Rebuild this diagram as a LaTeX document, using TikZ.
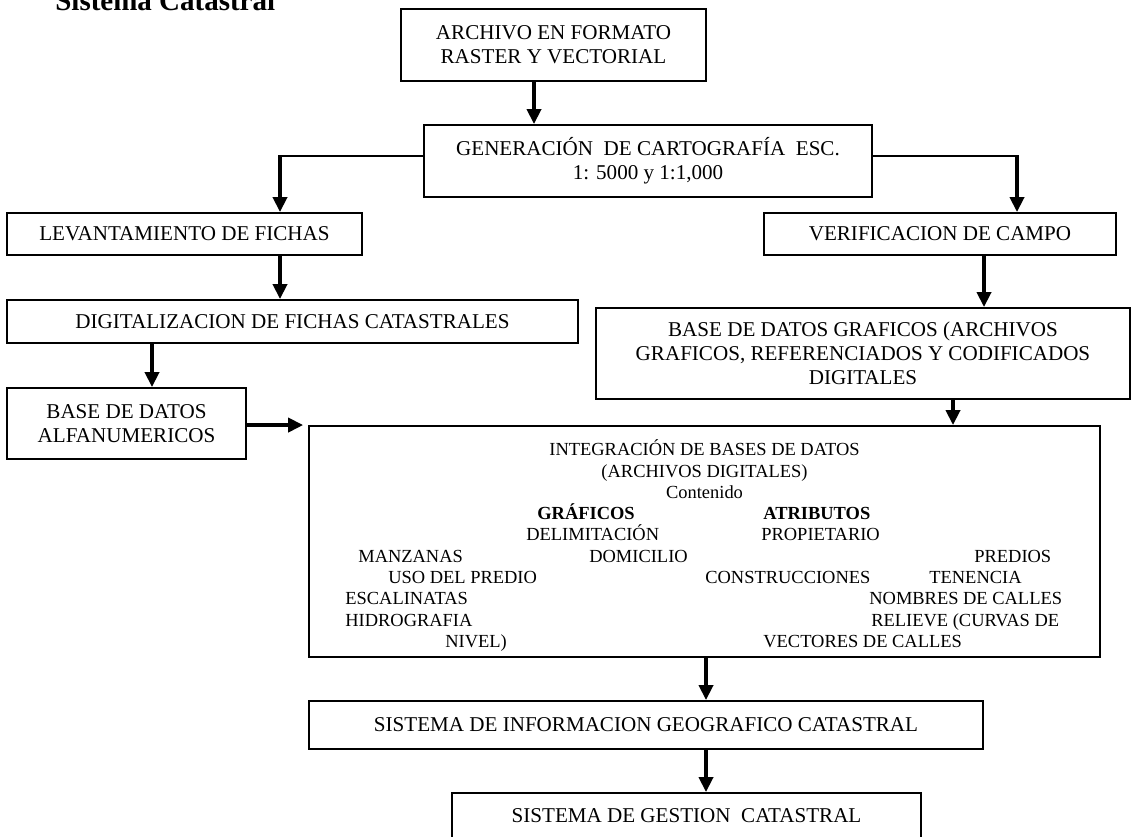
\documentclass[tikz,border=0pt]{standalone}
\usepackage{fontspec}
\setmainfont{Liberation Serif}
\usetikzlibrary{arrows.meta,positioning}

\newcommand{\px}{0.02cm}
\tikzset{
  caja/.style 2 args={draw,line width=1.1pt,inner sep=0pt,align=center,
    minimum width=#1*\px,minimum height=#2*\px,
    font=\fontsize{12}{13.8}\selectfont},
  flecha/.style={line width=2pt,-{Triangle[length=8.5pt,width=8pt]}},
  liga/.style={line width=1.1pt},
  dato/.style={anchor=base west,inner sep=0pt,font=\fontsize{10.5}{12}\selectfont},
  cabeza/.style={dato,font=\fontsize{10.5}{12}\selectfont\bfseries},
}

\begin{document}
\begin{tikzpicture}[x=0.02cm,y=-0.02cm]
  \useasboundingbox (0,0) rectangle (1135,836);

  \node[anchor=base west,inner sep=0pt,font=\fontsize{16.5}{18}\selectfont\bfseries]
    (titulo) at (55,10.5) {Sistema Catastral};

  % cajas del flujo
  \node[caja={305}{72}] (archivo) at (553.5,45) {ARCHIVO EN FORMATO\\RASTER Y VECTORIAL};
  \node[caja={448}{72}] (generacion) at (648,161)
    {GENERACIÓN\ \ DE CARTOGRAFÍA\ \ ESC.\\1: 5000 y 1:1,000};
  \node[caja={355}{42}] (levantamiento) at (184.5,234) {LEVANTAMIENTO DE FICHAS};
  \node[caja={352}{42}] (verificacion) at (940,234) {VERIFICACION DE CAMPO};
  \node[caja={571}{43}] (digitalizacion) at (292.5,321.5) {DIGITALIZACION DE FICHAS CATASTRALES};
  \node[caja={534}{91}] (graficos) at (863,353.5)
    {BASE DE DATOS GRAFICOS (ARCHIVOS\\GRAFICOS, REFERENCIADOS Y CODIFICADOS\\DIGITALES};
  \node[caja={239}{71}] (alfanum) at (126.5,423.5) {BASE DE DATOS\\ALFANUMERICOS};
  \node[caja={791}{231}] (integracion) at (704.5,541.5) {};
  \node[caja={674}{48}] (sig) at (646,725) {SISTEMA DE INFORMACION GEOGRAFICO CATASTRAL};
  \node[caja={469}{46}] (gestion) at (686.5,816) {SISTEMA DE GESTION\ \ CATASTRAL};

  % contenido de la integracion
  \node[dato,anchor=base] (integ1) at (704.5,455) {INTEGRACIÓN DE BASES DE DATOS};
  \node[dato,anchor=base] (integ2) at (704.5,477) {(ARCHIVOS DIGITALES)};
  \node[dato,anchor=base] (contenido) at (704.5,498) {Contenido};
  \node[cabeza] (cabgraf) at (537,519) {GRÁFICOS};
  \node[cabeza] (cabatrib) at (763,519) {ATRIBUTOS};
  \node[dato] (delimitacion) at (526,540) {DELIMITACIÓN};
  \node[dato] (propietario) at (761,540) {PROPIETARIO};
  \node[dato] (manzanas) at (358,562) {MANZANAS};
  \node[dato] (domicilio) at (589,562) {DOMICILIO};
  \node[dato] (predios) at (974,562) {PREDIOS};
  \node[dato] (uso) at (388,583) {USO DEL PREDIO};
  \node[dato] (construcciones) at (705,583) {CONSTRUCCIONES};
  \node[dato] (tenencia) at (929,583) {TENENCIA};
  \node[dato] (escalinatas) at (345,604) {ESCALINATAS};
  \node[dato] (nombres) at (869,604) {NOMBRES DE CALLES};
  \node[dato] (hidrografia) at (345,626) {HIDROGRAFIA};
  \node[dato] (relieve) at (871,626) {RELIEVE (CURVAS DE};
  \node[dato] (nivel) at (445,647) {NIVEL)};
  \node[dato] (vectores) at (763,647) {VECTORES DE CALLES};

  % conectores
  \coordinate (x1) at (534,0);
  \coordinate (k1) at (280,156); \coordinate (k2) at (1017,156);
  \coordinate (x2) at (152,0); \coordinate (x3) at (984,0);
  \coordinate (x4) at (953,0); \coordinate (x5) at (706,0);
  \draw[flecha] (archivo.south -| x1) -- (generacion.north -| x1);
  \draw[liga] (generacion.west |- k1) -- ([xshift=-1pt]k1);
  \draw[liga] (generacion.east |- k2) -- ([xshift=1pt]k2);
  \draw[flecha] (k1) -- (levantamiento.north -| k1);
  \draw[flecha] (k2) -- (verificacion.north -| k2);
  \draw[flecha] (levantamiento.south -| k1) -- (digitalizacion.north -| k1);
  \draw[flecha] (digitalizacion.south -| x2) -- (alfanum.north -| x2);
  \draw[flecha] (verificacion.south -| x3) -- (graficos.north -| x3);
  \draw[flecha] (graficos.south -| x4) -- (integracion.north -| x4);
  \draw[flecha,shorten >=2.8pt] (alfanum.east |- integracion.north) -- (integracion.north west);
  \draw[flecha] (integracion.south -| x5) -- (sig.north -| x5);
  \draw[flecha] (sig.south -| x5) -- (gestion.north -| x5);
\end{tikzpicture}
\end{document}
